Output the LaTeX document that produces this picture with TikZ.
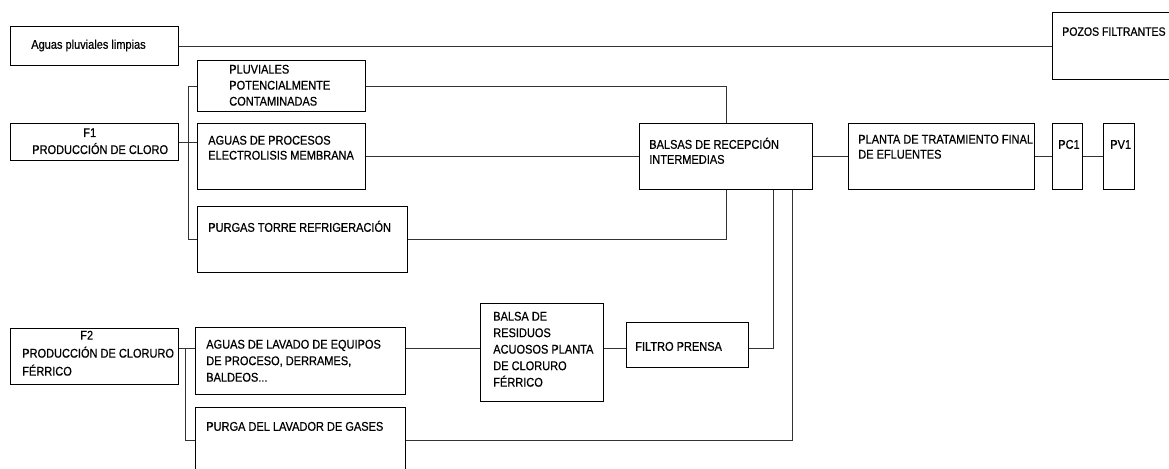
\documentclass[tikz,border=0pt]{standalone}
\usepackage{fontspec}
\usepackage{tikz}
\usetikzlibrary{positioning,calc}
\newfontfamily\narrowfont[FakeStretch=0.87,FakeBold=0.6]{Liberation Sans}
\definecolor{flowline}{HTML}{333333}
\newcommand{\boxfont}[1]{\narrowfont\fontsize{9}{#1}\selectfont}
\tikzset{
  procbox/.style 2 args={
    rectangle, draw=black, line width=0.6pt,
    minimum width=#1*0.025cm, minimum height=#2*0.025cm,
    anchor=north west, inner sep=0pt
  },
  boxtext/.style={
    anchor=north west, inner sep=0pt, align=left,
    font=\boxfont{#1},
    execute at begin node={\vphantom{É}}
  },
  boxtext/.default=11.4pt,
  flow/.style={draw=flowline, line width=0.6pt}
}

\begin{document}
\begin{tikzpicture}[x=0.025cm, y=-0.025cm]
    \clip (0,0) rectangle (1169,468);
    % boxes
    \node[procbox={168}{39}] (limpias) at (10,26) {};
    \node[procbox={125}{67}] (pozos) at (1052,12) {};
    \node[procbox={168}{51}] (pluviales) at (197,60) {};
    \node[procbox={168}{37}] (f1) at (10,123) {};
    \node[procbox={168}{66}] (procesos) at (197,123) {};
    \node[procbox={210}{66}] (purgas) at (197,206) {};
    \node[procbox={173}{66}] (balsas) at (639,123) {};
    \node[procbox={186}{66}] (planta) at (848,123) {};
    \node[procbox={30}{66}] (pc1) at (1052,123) {};
    \node[procbox={31}{66}] (pv1) at (1103,123) {};
    \node[procbox={168}{56}] (f2) at (10,328) {};
    \node[procbox={210}{67}] (lavado) at (195,327) {};
    \node[procbox={210}{66}] (lavador) at (195,407) {};
    \node[procbox={123}{98}] (residuos) at (480,303) {};
    \node[procbox={122}{45}] (filtro) at (626,322) {};
    % texts
    \node[boxtext] (limpias-t) at ([shift={(21,11.5)}]limpias.north west) {Aguas pluviales limpias};
    \node[boxtext, font=\narrowfont\fontsize{8.6}{11}\selectfont] (pozos-t) at ([shift={(10,13)}]pozos.north west) {POZOS FILTRANTES};
    \node[boxtext=11.38pt] (pluviales-t) at ([shift={(32,4.5)}]pluviales.north west) {PLUVIALES\\POTENCIALMENTE\\CONTAMINADAS};
    \node[boxtext=12.09pt] (f1-t) at ([shift={(22,5)}]f1.north west) {\hspace*{1.275cm}F1\\PRODUCCIÓN DE CLORO};
    \node[boxtext=10.67pt] (procesos-t) at ([shift={(11,12.5)}]procesos.north west) {AGUAS DE PROCESOS\\ELECTROLISIS MEMBRANA};
    \node[boxtext] (purgas-t) at ([shift={(11,14.5)}]purgas.north west) {PURGAS TORRE REFRIGERACIÓN};
    \node[boxtext=10.67pt] (balsas-t) at ([shift={(10,14.5)}]balsas.north west) {BALSAS DE RECEPCIÓN\\INTERMEDIAS};
    \node[boxtext=10.67pt] (planta-t) at ([shift={(10,11.5)}]planta.north west) {PLANTA DE TRATAMIENTO FINAL\\DE EFLUENTES};
    \node[boxtext] (pc1-t) at ([shift={(6,14.5)}]pc1.north west) {PC1};
    \node[boxtext] (pv1-t) at ([shift={(7,14.5)}]pv1.north west) {PV1};
    \node[boxtext=12.8pt] (f2-t) at ([shift={(12,2.5)}]f2.north west) {\hspace*{1.45cm}F2\\PRODUCCIÓN DE CLORURO\\FÉRRICO};
    \node[boxtext=11.74pt] (lavado-t) at ([shift={(11,12.5)}]lavado.north west) {AGUAS DE LAVADO DE EQUIPOS\\DE PROCESO, DERRAMES,\\BALDEOS...};
    \node[boxtext] (lavador-t) at ([shift={(11,12.5)}]lavador.north west) {PURGA DEL LAVADOR DE GASES};
    \node[boxtext=11.74pt] (residuos-t) at ([shift={(13,8.5)}]residuos.north west) {BALSA DE\\RESIDUOS\\ACUOSOS PLANTA\\DE CLORURO\\FÉRRICO};
    \node[boxtext] (filtro-t) at ([shift={(9,17.5)}]filtro.north west) {FILTRO PRENSA};
    % connectors
    \draw[flow] (limpias.east) -- (limpias.east -| pozos.west);
    \draw[flow] (f1.east) -- (f1.east -| procesos.west);
    \draw[flow] (pluviales.west) -- ++(-9,0) |- (purgas.west);
    \draw[flow] (pluviales.east) -| (balsas.north);
    \draw[flow] (procesos) -- (balsas);
    \draw[flow] (purgas.east) -| (balsas.south);
    \draw[flow] (balsas) -- (planta);
    \draw[flow] (planta) -- (pc1);
    \draw[flow] (pc1) -- (pv1);
    \draw[flow] ([yshift=0.2cm]f2.east) -- ++(7,0) coordinate (f2bus) |- (lavador.west);
    \draw[flow] (f2bus) -- (f2bus -| lavado.west);
    \draw[flow] (f2bus -| lavado.east) -- (f2bus -| residuos.west);
    \draw[flow] (f2bus -| residuos.east) -- (f2bus -| filtro.west);
    \draw[flow] (f2bus -| filtro.east) -| ([xshift=1.19cm]balsas.south);
    \draw[flow] (lavador.east) -| ([xshift=1.66cm]balsas.south);
\end{tikzpicture}
\end{document}
